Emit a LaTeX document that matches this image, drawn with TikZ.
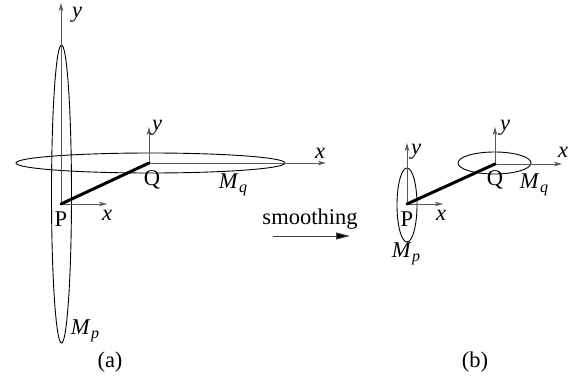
\documentclass[tikz,border=0pt]{standalone}
\usepackage{fontspec}
\setmainfont{Liberation Serif}
\usetikzlibrary{arrows.meta}
\newcommand{\Msub}[1]{\textit{M}\kern0.5pt\raisebox{-0.35ex}{\fontsize{16}{16}\selectfont\textit{#1}}}
\tikzset{
  axis/.style={draw=black!65, line width=0.8pt, -{Stealth[length=8pt,width=4.5pt,inset=2pt]}},
  link/.style={line width=3pt, line cap=round},
  manif/.style={draw=black, line width=0.9pt},
  lbl/.style={inner sep=0pt, font=\fontsize{22.5}{26}\selectfont},
  smootharrow/.style={draw=black!75, line width=1pt, -{Triangle[length=14pt,width=7pt,fill=black]}}
}
\begin{document}
\begin{tikzpicture}[x=1pt,y=-1pt]
\useasboundingbox (0,0) rectangle (573,380);
% ---------- (a)
\coordinate (P1) at (61,204);
\coordinate (Q1) at (149,163);
\coordinate (P1y) at (61,3);
\coordinate (P1x) at (107,204);
\coordinate (Q1y) at (149,127);
\coordinate (Q1x) at (326,163);
\draw[manif] (61.5,194) ellipse (10 and 149);
\draw[manif] (150.5,163) ellipse (134.5 and 10);
\draw[axis] (P1) -- (P1y);
\draw[axis] (P1) -- (P1x);
\draw[axis] (Q1) -- (Q1y);
\draw[axis] (Q1) -- (Q1x);
\draw[link] (P1) -- (Q1);
\node[lbl, anchor=base] (lyP1) at (77,17) {\textit{y}};
\node[lbl] (lxP1) at (107,215) {\textit{x}};
\node[lbl] (lyQ1) at (157,128) {\textit{y}};
\node[lbl] (lxQ1) at (320,153) {\textit{x}};
\node[lbl] (lP1) at (61,219) {P};
\node[lbl] (lQ1) at (152,180) {Q};
\node[lbl] (lMq1) at (233,185) {\Msub{q}};
\node[lbl] (lMp1) at (85,331) {\Msub{p}};
\node[lbl] (la) at (110,362) {(a)};
% ---------- smoothing
\node[lbl] (sm) at (310,219) {smoothing};
\coordinate (sa) at (273,236);
\coordinate (sb) at (350,236);
\draw[smootharrow] (sa) -- (sb);
% ---------- (b)
\coordinate (P2) at (407,204);
\coordinate (Q2) at (495,164);
\coordinate (P2y) at (407,143);
\coordinate (P2x) at (443,204);
\coordinate (Q2y) at (495,127);
\coordinate (Q2x) at (562,164);
\draw[manif] (407,205) ellipse (10 and 37);
\draw[manif] (494.5,163) ellipse (36.5 and 11);
\draw[axis] (P2) -- (P2y);
\draw[axis] (P2) -- (P2x);
\draw[axis] (Q2) -- (Q2y);
\draw[axis] (Q2) -- (Q2x);
\draw[link] (P2) -- (Q2);
\node[lbl] (lyP2) at (416,152) {\textit{y}};
\node[lbl] (lxP2) at (441,215) {\textit{x}};
\node[lbl] (lyQ2) at (505,128) {\textit{y}};
\node[lbl] (lxQ2) at (563,152) {\textit{x}};
\node[lbl] (lP2) at (407,219) {P};
\node[lbl] (lQ2) at (495,180) {Q};
\node[lbl] (lMq2) at (534,185) {\Msub{q}};
\node[lbl] (lMp2) at (406,254) {\Msub{p}};
\node[lbl] (lb) at (475,362) {(b)};
\end{tikzpicture}
\end{document}
